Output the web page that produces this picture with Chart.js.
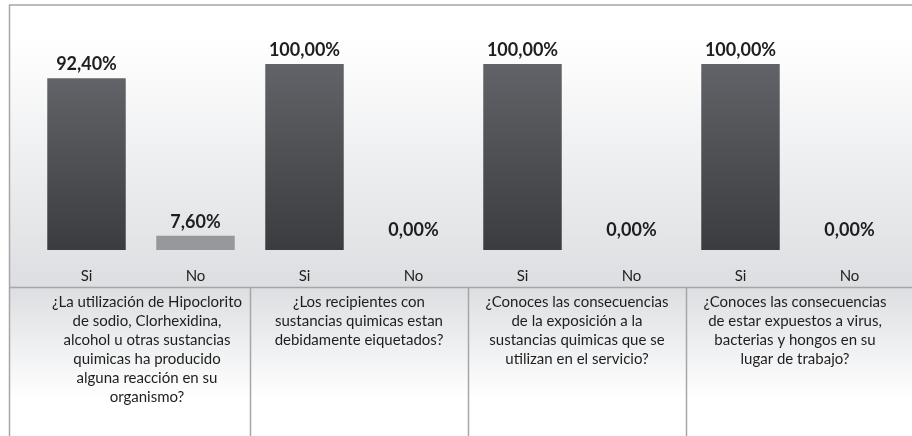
<!DOCTYPE html>
<html><head><meta charset="utf-8">
<script src="https://cdn.jsdelivr.net/npm/chart.js@4.4.1/dist/chart.umd.min.js"></script>
<style>html,body{margin:0;padding:0;background:#fff}#wrap{width:912px;height:436px;position:relative}</style>
</head><body><div id="wrap"><canvas id="c"></canvas></div>
<script>
const categories = ['Si','No','Si','No','Si','No','Si','No'];
const values = [92.4, 7.6, 100, 0, 100, 0, 100, 0];
const valueLabels = ['92,40%','7,60%','100,00%','0,00%','100,00%','0,00%','100,00%','0,00%'];
const questions = [
  ['¿La utilización de Hipoclorito','de sodio, Clorhexidina,','alcohol u otras sustancias','quimicas ha producido','alguna reacción en su','organismo?'],
  ['¿Los recipientes con','sustancias quimicas estan','debidamente eiquetados?'],
  ['¿Conoces las consecuencias','de la exposición a la','sustancias quimicas que se','utilizan en el servicio?'],
  ['¿Conoces las consecuencias','de estar expuestos a virus,','bacterias y hongos en su','lugar de trabajo?']
];
const yRange = [0, 100];

const FONT = 'Lato, "Open Sans", sans-serif';
const GREY = '#dcdee1';
const LINE = '#a6a6a6';
const TEXT = '#1e1e1e';

const bgPlugin = {
  id: 'bg',
  beforeDraw(chart) {
    const ctx = chart.ctx, W = chart.width, H = chart.height;
    const axisY = chart.scales.x.bottom;
    ctx.save();
    let g = ctx.createLinearGradient(0, 5, 0, axisY);
    g.addColorStop(0, '#ffffff');
    g.addColorStop(0.12, '#ffffff');
    g.addColorStop(1, GREY);
    ctx.fillStyle = g;
    ctx.fillRect(9, 5, W - 9, axisY - 5);
    g = ctx.createLinearGradient(0, axisY, 0, H);
    g.addColorStop(0, GREY);
    g.addColorStop(0.75, '#ffffff');
    g.addColorStop(1, '#ffffff');
    ctx.fillStyle = g;
    ctx.fillRect(9, axisY, W - 9, H - axisY);
    ctx.restore();
  },
  afterDraw(chart) {
    const ctx = chart.ctx, W = chart.width, H = chart.height;
    const x = chart.scales.x;
    const axisY = chart.scales.x.bottom;
    ctx.save();
    ctx.strokeStyle = LINE;
    ctx.lineWidth = 1.5;
    ctx.beginPath();
    ctx.moveTo(9, 5); ctx.lineTo(W, 5);
    ctx.moveTo(9.5, 4.5); ctx.lineTo(9.5, H);
    ctx.moveTo(9, axisY + 0.5); ctx.lineTo(W, axisY + 0.5);
    for (let gi = 1; gi < questions.length; gi++) {
      const sx = Math.round((x.getPixelForValue(2 * gi - 1) + x.getPixelForValue(2 * gi)) / 2) + 0.5;
      ctx.moveTo(sx, axisY); ctx.lineTo(sx, H);
    }
    ctx.stroke();
    ctx.fillStyle = TEXT;
    ctx.font = '15px ' + FONT;
    ctx.textAlign = 'center';
    ctx.textBaseline = 'middle';
    questions.forEach((lines, gi) => {
      let cx = (x.getPixelForValue(2 * gi) + x.getPixelForValue(2 * gi + 1)) / 2;
      if (gi === 0) cx += 6;
      lines.forEach((t, li) => ctx.fillText(t, cx, axisY + 15 + li * 19));
    });
    ctx.restore();
  },
  afterDatasetsDraw(chart) {
    const ctx = chart.ctx;
    const meta = chart.getDatasetMeta(0);
    ctx.save();
    ctx.fillStyle = TEXT;
    ctx.font = 'bold 18px ' + FONT;
    ctx.textAlign = 'center';
    ctx.textBaseline = 'alphabetic';
    meta.data.forEach((bar, i) => {
      const off = values[i] === 0 ? 14 : 8;
      ctx.fillText(valueLabels[i], bar.x, bar.y - off);
    });
    ctx.restore();
  }
};

function barColor(ctx) {
  const chart = ctx.chart;
  const i = ctx.dataIndex;
  if (categories[i] === 'No') return '#97989b';
  const area = chart.chartArea;
  if (!area) return '#4a4b4f';
  const y = chart.scales.y;
  const top = y.getPixelForValue(values[i]);
  const bottom = y.getPixelForValue(0);
  const g = chart.ctx.createLinearGradient(0, top, 0, bottom);
  g.addColorStop(0, '#616368');
  g.addColorStop(1, '#3b3c3f');
  return g;
}

new Chart(document.getElementById('c'), {
  type: 'bar',
  data: {
    labels: categories,
    datasets: [{
      data: values,
      backgroundColor: barColor,
      borderWidth: 0,
      categoryPercentage: 1,
      barPercentage: 0.72
    }]
  },
  options: {
    responsive: true,
    maintainAspectRatio: false,
    animation: false,
    devicePixelRatio: 1,
    layout: { padding: { left: 32, right: 8, top: 64, bottom: 149 } },
    plugins: { legend: { display: false }, tooltip: { enabled: false } },
    scales: {
      x: {
        grid: { display: false, drawTicks: false },
        border: { display: false },
        ticks: { color: TEXT, font: { family: FONT, size: 15 }, padding: 17, maxRotation: 0 },
        afterFit(scale) { scale.height = 37; }
      },
      y: { display: false, min: yRange[0], max: yRange[1] }
    }
  },
  plugins: [bgPlugin]
});
</script>
</body></html>
